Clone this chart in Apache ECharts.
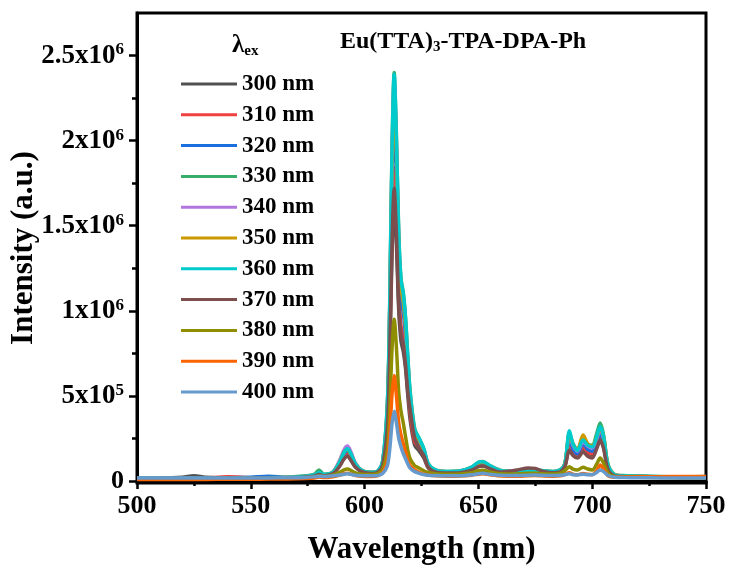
<!DOCTYPE html>
<html>
<head>
<meta charset="utf-8">
<title>Eu(TTA)3-TPA-DPA-Ph emission</title>
<script src="https://cdn.jsdelivr.net/npm/echarts/dist/echarts.min.js"></script>
<style>
  html, body { margin: 0; padding: 0; background: #fff; }
  #chart { width: 729px; height: 573px; }
</style>
</head>
<body>
<div id="chart"></div>
<script>
// wavelength (nm), intensities in units of 1e4 a.u.
const wavelength = [500, 510, 520, 525, 530, 540, 550, 558, 566, 574, 578, 580, 582, 586, 589, 591, 592.5, 594, 596, 599,
  603, 606, 608, 610, 611, 612, 613, 614, 615, 616, 617, 618, 619, 620, 622, 624, 626, 628, 631, 636,
  642, 647, 650, 652, 655, 660, 667, 672, 675, 678, 683, 686, 688, 690, 691.5, 693.5, 696, 698, 700, 702,
  703.5, 705, 707, 710, 714, 720, 730, 740, 750];

const ex300 = [1.5,1.6,2.2,3,2.2,1.7,1.8,1.8,1.9,2.3,3,4,3.2,4.4,9,13.5,15,12.5,8.2,5.4,4.5,
  5.3,9.5,31,69,131,165,138,100,82,76,66,50,36,21,17.5,13.5,7.5,5.2,
  4.8,5,6.5,8.6,9,7.4,5.2,4.8,5.4,5.6,5.2,4.8,5.5,8.5,20,16,14.5,19,16.5,15.5,20,24,20,7,2.9,2.7,2.5,2.2,2.1,2.1];
const ex310 = [1.4,1.5,1.6,1.6,1.7,2.4,1.9,1.8,2.0,2.4,3.1,4.2,3.3,4.6,10,15,17,14,9,5.6,4.6,
  5.5,10,35,77,146,184,154,112,91,85,73,56,40,23,19.5,15,8,5.5,
  5,5.2,6.8,9.2,9.6,7.8,5.4,5,5.5,5.8,5.5,5,5.8,9,22,17,15,20,17,16,21,25,21,7.5,3,2.8,2.6,2.3,2.4,2.2];
const ex320 = [1.5,1.5,1.6,1.6,1.7,1.9,2.2,2.8,2.1,2.5,3.2,4.4,3.4,4.8,10.5,16,18,15,9.5,5.8,4.8,
  5.8,11,40,90,171,215,180,130,106,99,85,65,47,27,22.5,17,9,6,
  5.2,5.5,7.2,10,10.3,8.3,5.7,5.2,5.7,6,5.7,5.2,6.1,9.5,25,19,16,22,18.5,17.5,23,28,23,8,3.2,2.9,2.6,2.3,2.2,2.2];
const ex330 = [1.5,1.6,1.7,1.8,1.7,1.8,1.9,2.0,2.2,3,4,6.5,4,5.2,11.5,17.5,19.5,16,10,6,5.2,
  6,12,46,102,192,240,202,146,119,111,96,73,53,31,25,19,10,6.5,
  5.6,6,8.2,11,11.5,9,6.2,5.6,6,6.5,6.2,5.6,6.8,10,28,22,18.5,23.5,21.5,21,28,34,27,9.5,3.8,3.2,3,2.6,2.5,2.6];
const ex340 = [1.4,1.5,1.6,1.6,1.6,1.7,1.8,1.9,2.0,2.6,3.4,4.6,3.6,5.2,12,18.5,20.5,17,10.5,6,5,
  6,12,44,98,186,235,196,142,115,107,92,70,50,29,24,18,9.5,6.3,
  5.4,5.7,7.8,10.5,11,8.8,5.9,5.4,5.9,6.3,5.9,5.4,6.4,10,27,21,17.5,23,20.5,19.5,25,30,25,8.5,3.4,3,2.7,2.4,2.3,2.3];
const ex350 = [1.5,1.5,1.6,1.7,1.6,1.7,1.8,1.9,2.0,2.5,3.3,4.5,3.6,5,11,17,18.5,15.5,10,6,5,
  6,11.5,43,96,182,229,192,139,113,105,91,69,50,29,24,18,9.5,6.3,
  5.4,5.7,7.6,10.5,10.8,8.7,5.9,5.4,5.9,6.2,5.9,5.4,6.4,10,28,22,18.5,27,22,20.5,26,31,26,9,3.4,3,2.7,2.4,2.3,2.3];
const ex360 = [1.6,1.5,1.6,1.7,1.6,1.7,1.8,1.9,2.0,2.6,3.5,5,3.8,5,11,17,19,16,10,6,5,
  6,12,45,100,190,239,200,145,118,110,95,72,52,30,25,19,10,6.5,
  5.5,5.8,8,11,11.3,9,6,5.5,6,6.4,6,5.5,6.5,10,29.5,22,18,24,21,20,26,32,26,9,3.5,3,2.8,2.5,2.3,2.4];
const ex370 = [1.3,1.4,1.5,1.5,1.5,1.6,1.7,1.8,1.9,2.2,2.8,3.8,3,4.2,8.5,13,14.5,12,8,5.3,4.4,
  5.3,9.5,32,72,137,172,144,104,86,80,68,52,42,25,19,15,8,5.3,
  4.7,4.9,6.3,8.4,8.8,7.2,5.2,6.5,7.6,7.4,5.8,4.8,5.4,8.5,18,15,13.5,17,14.5,13.5,19,24,19,6.5,2.8,2.6,2.4,2.2,2.1,2.1];
const ex380 = [1.2,1.2,1.3,1.3,1.3,1.4,1.5,1.6,1.7,2,2.4,3,2.6,3.4,5,6.5,7,6.2,4.8,4,3.8,
  4.5,7,18,40,76,95,78,52,41,34,26,18,13,9,7.5,6,5,4.2,
  4,4.1,4.8,6,6.3,5.3,4.2,4.1,4.5,4.6,4.3,4.1,4.5,6,8.4,7,6.5,8,7,6.5,10,13.5,10.5,4.5,2.5,2.3,2.2,2,1.9,1.9];
const ex390 = [0.8,0.8,0.9,0.9,0.9,1,1,1.1,1.2,1.5,1.8,2.3,2,2.5,3.4,4.2,4.5,4,3.2,2.7,2.6,
  3.2,5,12,26,50,62,50,34,27,22,17,12,9,6.5,5,4,3.5,3,
  2.8,2.9,3.4,4,4.2,3.6,2.9,2.8,3.1,3.2,3,2.8,3,3.8,4.8,4,3.6,4.4,3.9,3.7,6,9.4,7,3,2.2,2.3,2.4,2.5,2.6,2.6];
const ex400 = [1.8,1.7,1.7,1.7,1.7,1.7,1.8,1.8,1.9,2.1,2.4,2.8,2.6,3,3.5,4,4.2,3.9,3.4,3.1,3,
  3.3,4.5,9,18,33,41,34,25,20,16,13,10,7.5,5.5,4.5,3.8,3.4,3.2,
  3.1,3.1,3.6,4.3,4.5,3.9,3.3,3.2,3.4,3.5,3.3,3.2,3.4,3.7,4.2,3.7,3.5,4,3.7,3.6,5,6.5,5.5,3.2,2.2,2,1.9,1.8,1.8,1.8];

const seriesNames = ['300 nm', '310 nm', '320 nm', '330 nm', '340 nm', '350 nm', '360 nm', '370 nm', '380 nm', '390 nm', '400 nm'];
const seriesData = [ex300, ex310, ex320, ex330, ex340, ex350, ex360, ex370, ex380, ex390, ex400];
const colors = ['#515151', '#F14040', '#1A6FDF', '#37AD6B', '#B177DE', '#CC9900', '#00CBCC', '#7D4E4E', '#8E8E00', '#FB6501', '#6699CC'];

const yTickValues = [0, 50, 100, 150, 200, 250];
const yTickLabels = ['0', '{n|5x10}{s|5}', '{n|1x10}{s|6}', '{n|1.5x10}{s|6}', '{n|2x10}{s|6}', '{n|2.5x10}{s|6}'];
const yMinorTicks = [25, 75, 125, 175, 225];

const font = 'Liberation Serif';
const chart = echarts.init(document.getElementById('chart'));

const series = seriesNames.map((name, i) => ({
  name: name,
  type: 'line',
  data: wavelength.map((w, j) => [w, seriesData[i][j]]),
  symbol: 'none',
  smooth: 0.3,
  lineStyle: { width: 3.5, color: colors[i] },
  itemStyle: { color: colors[i] }
}));

const yCommon = { type: 'value', min: -1.2, max: 275, splitLine: { show: false } };

chart.setOption({
  animation: false,
  grid: {
    left: 137, right: 23, top: 13, bottom: 90,
    outerBoundsMode: 'none', containLabel: false,
    show: true, borderColor: '#000', borderWidth: 3
  },
  legend: {
    orient: 'vertical',
    left: 176,
    top: 67,
    itemWidth: 56,
    itemHeight: 3,
    itemGap: 6.8,
    icon: 'rect',
    data: seriesNames,
    textStyle: { fontFamily: font, fontWeight: 'bold', fontSize: 23, color: '#000', lineHeight: 24 }
  },
  xAxis: {
    type: 'value',
    min: 500,
    max: 750,
    interval: 50,
    name: 'Wavelength (nm)',
    nameLocation: 'middle',
    nameGap: 51,
    nameTextStyle: { fontFamily: font, fontWeight: 'bold', fontSize: 31, color: '#000' },
    axisLine: { lineStyle: { color: '#000', width: 3 } },
    axisTick: { length: 8, lineStyle: { width: 2.5, color: '#000' } },
    minorTick: { show: true, splitNumber: 2, length: 5, lineStyle: { width: 2.5, color: '#000' } },
    axisLabel: { margin: 10, fontFamily: font, fontWeight: 'bold', fontSize: 26, color: '#000' },
    splitLine: { show: false }
  },
  yAxis: [
    Object.assign({}, yCommon, {
      name: 'Intensity (a.u.)',
      nameLocation: 'middle',
      nameGap: 98,
      nameMoveOverlap: false,
      nameTextStyle: { fontFamily: font, fontWeight: 'bold', fontSize: 31, color: '#000' },
      axisLine: { show: true, lineStyle: { color: '#000', width: 3 } },
      axisTick: { show: true, length: 8, customValues: yTickValues, lineStyle: { width: 2.5, color: '#000' } },
      axisLabel: {
        margin: 13,
        customValues: yTickValues,
        formatter: v => yTickLabels[yTickValues.indexOf(v)] || '',
        fontFamily: font, fontWeight: 'bold', fontSize: 26, color: '#000',
        rich: {
          n: { fontFamily: font, fontWeight: 'bold', fontSize: 27, color: '#000', lineHeight: 28 },
          s: { fontFamily: font, fontWeight: 'bold', fontSize: 17, color: '#000', verticalAlign: 'top', lineHeight: 28, padding: [0, 0, 10, 0] }
        }
      }
    }),
    Object.assign({}, yCommon, {
      position: 'left',
      axisLine: { show: false },
      axisTick: { show: true, length: 5, customValues: yMinorTicks, lineStyle: { width: 2.5, color: '#000' } },
      axisLabel: { show: false }
    })
  ],
  graphic: [
    {
      type: 'text', left: 232, top: 33,
      style: {
        text: '{a|λ}{b|ex}',
        rich: {
          a: { fontFamily: font, fontWeight: 'bold', fontSize: 25, fill: '#000' },
          b: { fontFamily: font, fontWeight: 'bold', fontSize: 15, fill: '#000', verticalAlign: 'bottom', padding: [12, 0, 0, 0] }
        }
      }
    },
    {
      type: 'text', left: 340, top: 30,
      style: {
        text: '{a|Eu(TTA)}{b|3}{a|-TPA-DPA-Ph}',
        rich: {
          a: { fontFamily: font, fontWeight: 'bold', fontSize: 24, fill: '#000' },
          b: { fontFamily: font, fontWeight: 'bold', fontSize: 15, fill: '#000', verticalAlign: 'bottom', padding: [10, 0, 0, 0] }
        }
      }
    }
  ],
  series: series
});
</script>
</body>
</html>
